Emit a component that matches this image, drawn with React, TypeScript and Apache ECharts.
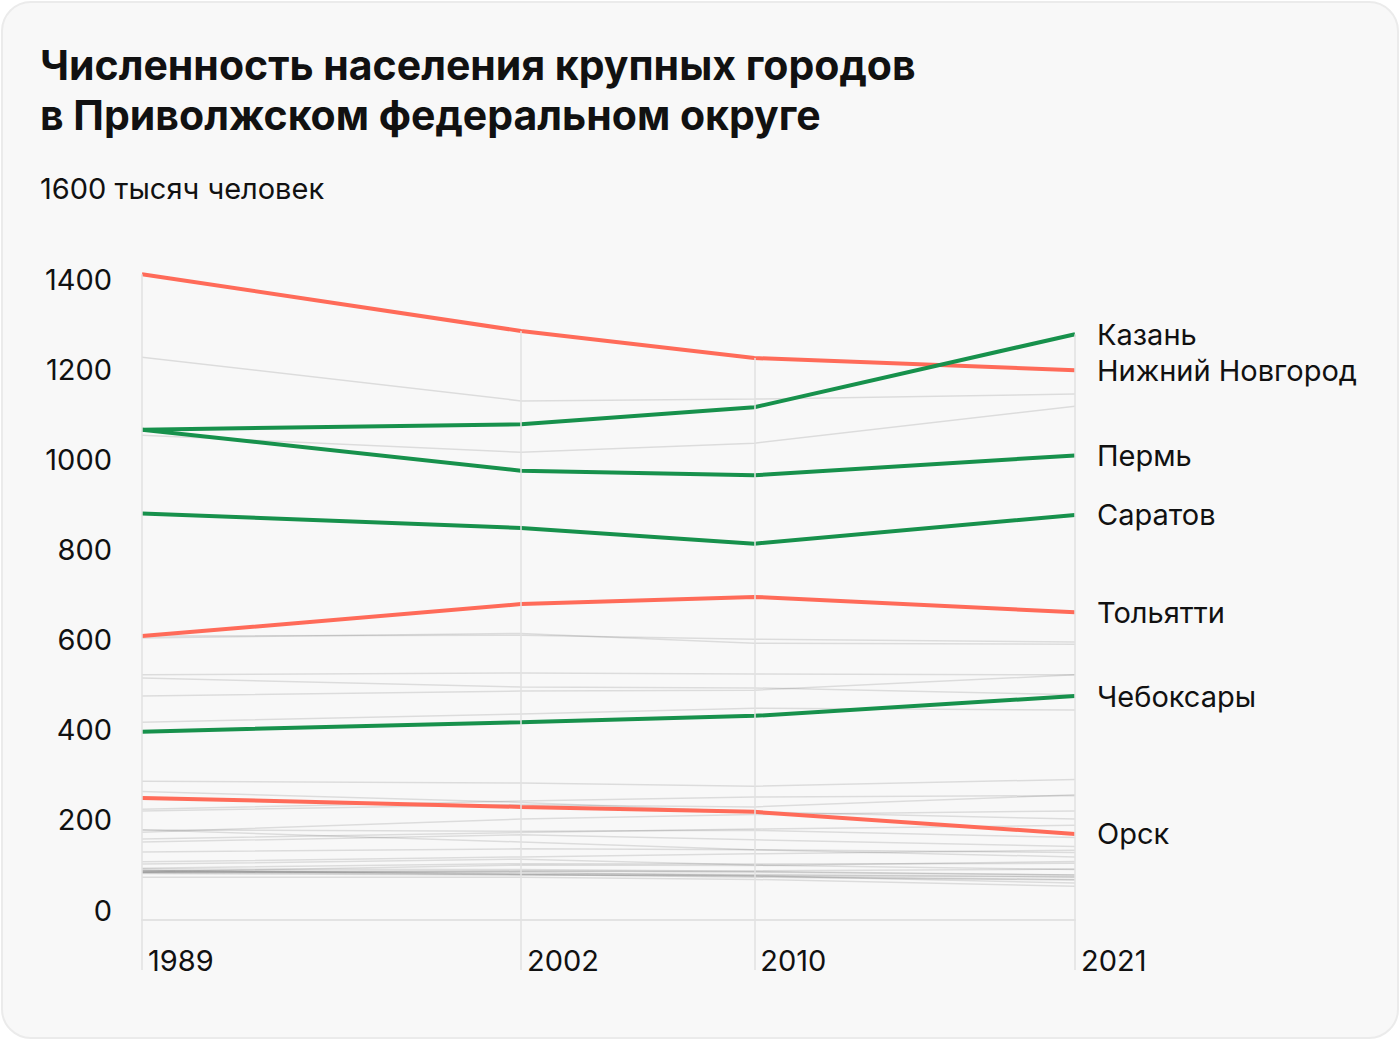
import React, { useEffect, useRef } from "react";
import * as echarts from "echarts";

const years = [1989, 2002, 2010, 2021];

const highlightNames = ["Нижний Новгород", "Казань", "Пермь", "Саратов", "Тольятти", "Чебоксары", "Орск"];
const highlightValues = [
  [1433, 1307, 1247, 1220],
  [1088, 1100, 1138, 1300],
  [1088, 997, 987, 1031],
  [902, 870, 835, 899],
  [630, 701, 717, 683],
  [418, 439, 453, 497],
  [271, 251, 240, 191],
];
const highlightTrend = ["down", "up", "up", "up", "down", "up", "down"];

const grayNames = [
  "Самара", "Уфа", "Ижевск", "Ульяновск", "Оренбург", "Пенза", "Набережные Челны", "Киров",
  "Саранск", "Йошкар-Ола", "Стерлитамак", "Дзержинск", "Нижнекамск", "Энгельс", "Балаково",
  "Березники", "Сызрань", "Салават", "Альметьевск", "Димитровград", "Новочебоксарск",
  "Нефтекамск", "Новокуйбышевск", "Арзамас", "Сарапул", "Соликамск", "Октябрьский", "Глазов",
  "Новотроицк", "Воткинск", "Чайковский",
];
const grayValues = [
  [1249, 1152, 1156, 1167],
  [1076, 1038, 1058, 1140],
  [630, 632, 623, 617],
  [626, 636, 614, 612],
  [544, 548, 546, 544],
  [537, 517, 515, 500],
  [497, 508, 510, 544],
  [439, 457, 470, 466],
  [308, 304, 297, 312],
  [242, 256, 251, 278],
  [246, 264, 273, 276],
  [285, 261, 240, 224],
  [195, 224, 234, 242],
  [180, 194, 202, 210],
  [200, 197, 199, 183],
  [200, 173, 156, 140],
  [173, 189, 178, 163],
  [151, 158, 156, 150],
  [129, 140, 147, 155],
  [124, 135, 122, 112],
  [115, 125, 124, 126],
  [107, 122, 121, 130],
  [113, 112, 108, 100],
  [109, 109, 106, 100],
  [110, 103, 101, 96],
  [110, 101, 97, 90],
  [105, 108, 109, 113],
  [106, 101, 95, 89],
  [106, 106, 98, 82],
  [103, 100, 99, 95],
  [95, 95, 90, 75],
];

const yMax = 1600;
const yStep = 200;

const RED = "#ff6b59";
const GREEN = "#17914c";
const FONT = "Inter, 'Noto Sans', sans-serif";
const FS = 29;

export default function App() {
  const ref = useRef<HTMLDivElement>(null);

  useEffect(() => {
    if (!ref.current) return;
    const chart = echarts.init(ref.current, null, { renderer: "svg" });

    const all = [...highlightValues, ...grayValues];
    const maxAt = years.map((_, i) => Math.max(...all.map((s) => s[i])));

    const series: any[] = [];
    series.push({
      type: "line",
      name: "grid",
      data: [],
      silent: true,
      z: 1,
      markLine: {
        silent: true,
        symbol: "none",
        label: { show: false },
        lineStyle: { color: "#e2e2e2", width: 1.5, type: "solid" },
        data: years.map((y, i) => [{ coord: [y, maxAt[i]] }, { coord: [y, 0] }]),
      },
    });
    grayValues.forEach((vals, k) => {
      series.push({
        type: "line",
        name: grayNames[k],
        data: vals.map((v, i) => [years[i], v]),
        symbol: "none",
        silent: true,
        z: 2,
        lineStyle: { color: "rgba(0,0,0,0.11)", width: 1.5 },
      });
    });
    const order = highlightNames
      .map((_, k) => k)
      .sort((a, b) => (highlightTrend[a] === "down" ? 0 : 1) - (highlightTrend[b] === "down" ? 0 : 1));
    order.forEach((k) => {
      series.push({
        type: "line",
        name: highlightNames[k],
        data: highlightValues[k].map((v, i) => [years[i], v]),
        symbol: "none",
        silent: true,
        z: 3,
        lineStyle: { color: highlightTrend[k] === "down" ? RED : GREEN, width: 4 },
        endLabel: {
          show: true,
          formatter: highlightNames[k],
          distance: 22,
          color: "#111",
          fontSize: FS,
          fontFamily: FONT,
        },
      });
    });

    chart.setOption({
      animation: false,
      backgroundColor: "transparent",
      title: {
        text: "Численность населения крупных городов\nв Приволжском федеральном округе",
        left: 40,
        top: 40,
        padding: 0,
        textStyle: {
          fontSize: 41,
          fontWeight: 700,
          lineHeight: 50,
          color: "#111",
          fontFamily: FONT,
        },
      },
      graphic: [
        {
          type: "text",
          left: 40,
          top: 174,
          style: {
            text: yMax + " тысяч человек",
            fontSize: FS,
            fontFamily: FONT,
            fill: "#111",
          },
        },
      ],
      grid: { left: 142, right: 325, top: 199, bottom: 120, containLabel: false },
      xAxis: {
        type: "value",
        min: 1989,
        max: 2021,
        splitLine: { show: false },
        axisLine: { show: true, lineStyle: { color: "#e3e3e3", width: 2 } },
        axisTick: {
          show: true,
          customValues: years,
          length: 50,
          lineStyle: { color: "#e2e2e2", width: 1.5 },
        },
        axisLabel: {
          customValues: years,
          formatter: (v: number) => String(v),
          align: "left",
          padding: [0, 0, 0, 6],
          margin: 26,
          fontSize: FS,
          color: "#111",
          fontFamily: FONT,
        },
      },
      yAxis: {
        type: "value",
        min: 0,
        max: yMax,
        interval: yStep,
        splitLine: { show: false },
        axisLine: { show: false },
        axisTick: { show: false },
        axisLabel: {
          formatter: (v: number) => (v >= yMax ? "" : String(v)),
          margin: 30,
          fontSize: FS,
          color: "#111",
          fontFamily: FONT,
          verticalAlign: "bottom",
          lineHeight: 20,
        },
      },
      series,
    });

    return () => chart.dispose();
  }, []);

  return (
    <div style={{ position: "fixed", left: 0, top: 0, width: 1400, height: 1040, background: "#fff" }}>
      <div
        style={{
          position: "absolute",
          left: 1,
          top: 1,
          width: 1394,
          height: 1034,
          borderRadius: 30,
          border: "2px solid #ebebeb",
          background: "#f8f8f8",
        }}
      />
      <div ref={ref} style={{ position: "absolute", left: 0, top: 0, width: 1400, height: 1040 }} />
    </div>
  );
}
